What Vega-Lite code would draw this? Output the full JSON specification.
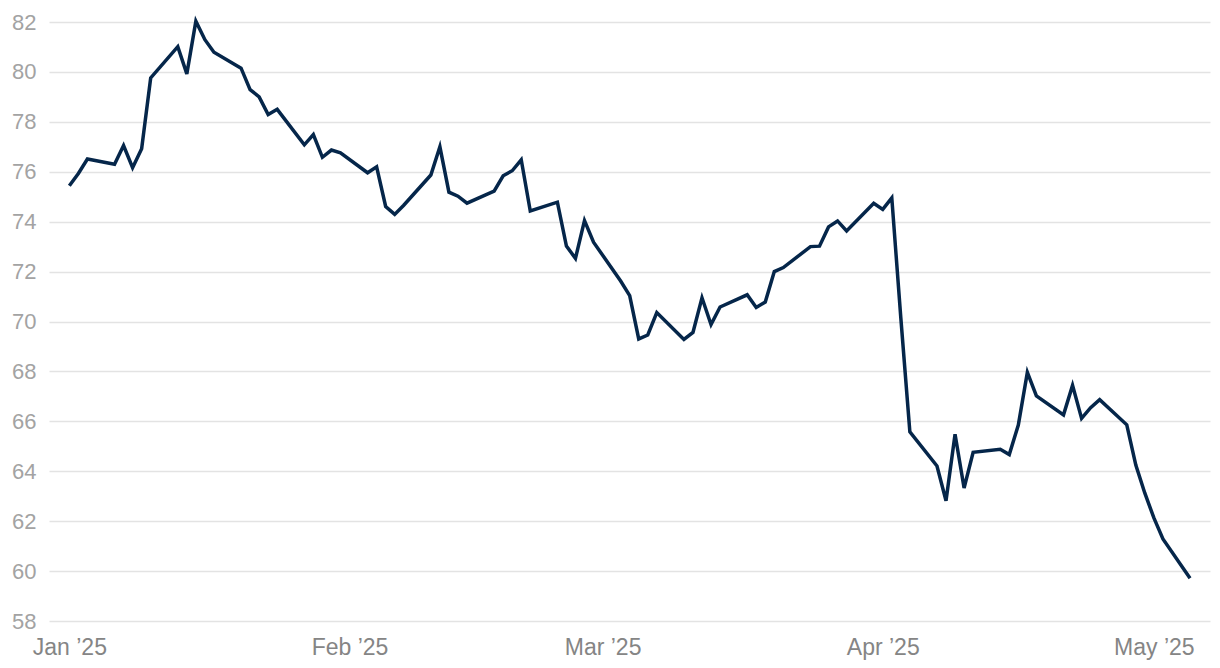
{
  "$schema": "https://vega.github.io/schema/vega-lite/v6.json",
  "width": 1161,
  "height": 599,
  "autosize": {"type": "none"},
  "padding": {"left": 49, "top": 22, "right": 10, "bottom": 47},
  "background": "white",
  "config": {"view": {"stroke": null}, "font": "Liberation Sans"},
  "data": {"values": [
    {"date": "2025-01-01", "price": 75.44},
    {"date": "2025-01-02", "price": 75.93},
    {"date": "2025-01-03", "price": 76.51},
    {"date": "2025-01-06", "price": 76.30},
    {"date": "2025-01-07", "price": 77.05},
    {"date": "2025-01-08", "price": 76.16},
    {"date": "2025-01-09", "price": 76.92},
    {"date": "2025-01-10", "price": 79.76},
    {"date": "2025-01-13", "price": 81.01},
    {"date": "2025-01-14", "price": 79.92},
    {"date": "2025-01-15", "price": 82.03},
    {"date": "2025-01-16", "price": 81.29},
    {"date": "2025-01-17", "price": 80.79},
    {"date": "2025-01-20", "price": 80.15},
    {"date": "2025-01-21", "price": 79.29},
    {"date": "2025-01-22", "price": 79.00},
    {"date": "2025-01-23", "price": 78.29},
    {"date": "2025-01-24", "price": 78.50},
    {"date": "2025-01-27", "price": 77.08},
    {"date": "2025-01-28", "price": 77.49},
    {"date": "2025-01-29", "price": 76.58},
    {"date": "2025-01-30", "price": 76.87},
    {"date": "2025-01-31", "price": 76.76},
    {"date": "2025-02-03", "price": 75.96},
    {"date": "2025-02-04", "price": 76.20},
    {"date": "2025-02-05", "price": 74.61},
    {"date": "2025-02-06", "price": 74.29},
    {"date": "2025-02-07", "price": 74.66},
    {"date": "2025-02-10", "price": 75.87},
    {"date": "2025-02-11", "price": 77.00},
    {"date": "2025-02-12", "price": 75.18},
    {"date": "2025-02-13", "price": 75.02},
    {"date": "2025-02-14", "price": 74.74},
    {"date": "2025-02-17", "price": 75.22},
    {"date": "2025-02-18", "price": 75.84},
    {"date": "2025-02-19", "price": 76.04},
    {"date": "2025-02-20", "price": 76.48},
    {"date": "2025-02-21", "price": 74.43},
    {"date": "2025-02-24", "price": 74.78},
    {"date": "2025-02-25", "price": 73.02},
    {"date": "2025-02-26", "price": 72.53},
    {"date": "2025-02-27", "price": 74.04},
    {"date": "2025-02-28", "price": 73.18},
    {"date": "2025-03-03", "price": 71.62},
    {"date": "2025-03-04", "price": 71.04},
    {"date": "2025-03-05", "price": 69.30},
    {"date": "2025-03-06", "price": 69.46},
    {"date": "2025-03-07", "price": 70.36},
    {"date": "2025-03-10", "price": 69.28},
    {"date": "2025-03-11", "price": 69.56},
    {"date": "2025-03-12", "price": 70.95},
    {"date": "2025-03-13", "price": 69.88},
    {"date": "2025-03-14", "price": 70.58},
    {"date": "2025-03-17", "price": 71.07},
    {"date": "2025-03-18", "price": 70.56},
    {"date": "2025-03-19", "price": 70.78},
    {"date": "2025-03-20", "price": 72.00},
    {"date": "2025-03-21", "price": 72.16},
    {"date": "2025-03-24", "price": 73.00},
    {"date": "2025-03-25", "price": 73.02},
    {"date": "2025-03-26", "price": 73.79},
    {"date": "2025-03-27", "price": 74.03},
    {"date": "2025-03-28", "price": 73.63},
    {"date": "2025-03-31", "price": 74.74},
    {"date": "2025-04-01", "price": 74.49},
    {"date": "2025-04-02", "price": 74.95},
    {"date": "2025-04-03", "price": 70.14},
    {"date": "2025-04-04", "price": 65.58},
    {"date": "2025-04-07", "price": 64.21},
    {"date": "2025-04-08", "price": 62.82},
    {"date": "2025-04-09", "price": 65.48},
    {"date": "2025-04-10", "price": 63.33},
    {"date": "2025-04-11", "price": 64.76},
    {"date": "2025-04-14", "price": 64.88},
    {"date": "2025-04-15", "price": 64.67},
    {"date": "2025-04-16", "price": 65.85},
    {"date": "2025-04-17", "price": 67.96},
    {"date": "2025-04-18", "price": 67.02},
    {"date": "2025-04-21", "price": 66.26},
    {"date": "2025-04-22", "price": 67.44},
    {"date": "2025-04-23", "price": 66.12},
    {"date": "2025-04-24", "price": 66.55},
    {"date": "2025-04-25", "price": 66.87},
    {"date": "2025-04-28", "price": 65.86},
    {"date": "2025-04-29", "price": 64.25},
    {"date": "2025-04-30", "price": 63.12},
    {"date": "2025-05-01", "price": 62.13},
    {"date": "2025-05-02", "price": 61.29},
    {"date": "2025-05-05", "price": 59.71}
  ]},
  "mark": {"type": "line", "color": "#05264a", "strokeWidth": 3.5, "strokeJoin": "miter", "strokeMiterLimit": 4},
  "encoding": {
    "x": {
      "field": "date",
      "type": "temporal",
      "scale": {
        "type": "utc",
        "domain": [
          {"year": 2024, "month": 12, "date": 29, "hours": 18, "utc": true},
          {"year": 2025, "month": 5, "date": 7, "hours": 5, "utc": true}
        ]
      },
      "axis": {
        "title": null,
        "format": "%b ’%y",
        "values": [
          {"year": 2025, "month": 1, "date": 1, "utc": true},
          {"year": 2025, "month": 2, "date": 1, "utc": true},
          {"year": 2025, "month": 3, "date": 1, "utc": true},
          {"year": 2025, "month": 4, "date": 1, "utc": true},
          {"year": 2025, "month": 5, "date": 1, "utc": true}
        ],
        "grid": false,
        "domain": false,
        "ticks": false,
        "labelPadding": 15,
        "labelFontSize": 23,
        "labelColor": "#858585",
        "labelFont": "Liberation Sans",
        "labelOverlap": false,
        "labelFlush": false
      }
    },
    "y": {
      "field": "price",
      "type": "quantitative",
      "scale": {"domain": [58, 82], "nice": false, "zero": false},
      "axis": {
        "title": null,
        "values": [58, 60, 62, 64, 66, 68, 70, 72, 74, 76, 78, 80, 82],
        "grid": true,
        "gridColor": "#e3e3e3",
        "gridWidth": 1.5,
        "domain": false,
        "ticks": false,
        "labelPadding": 13,
        "labelFontSize": 22,
        "labelColor": "#a3a3a3",
        "labelFont": "Liberation Sans"
      }
    }
  }
}
